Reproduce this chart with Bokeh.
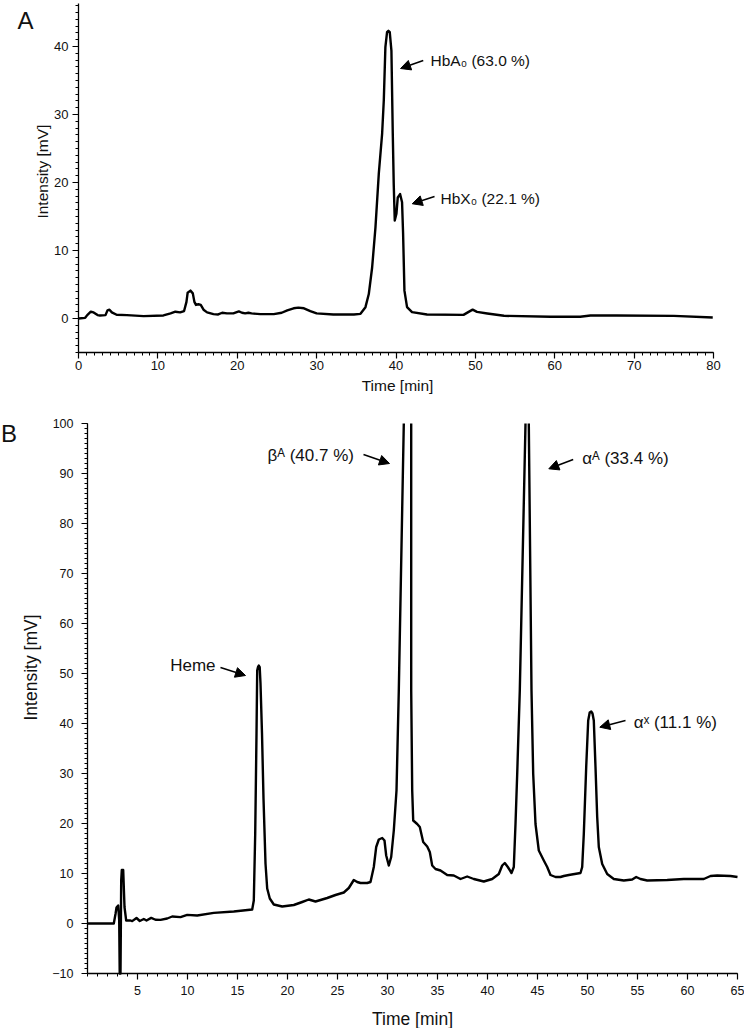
import math
from bokeh.plotting import figure
from bokeh.models import Range1d, FixedTicker, Label, Arrow, NormalHead
from bokeh.layouts import column
from bokeh.embed import file_html
from bokeh.resources import INLINE

FONT = "Liberation Sans"
NAN = float("nan")  # break in the trace where it leaves the 100 mV scale

# ---------------- Panel A data (Time [min], Intensity [mV]) ----------------
time_A = [0, 0.84, 1.1, 1.55, 1.9, 2.4, 2.7, 3.4, 3.65, 3.9, 4.2, 4.8, 6.1, 8.2, 10.7,
          11.6, 12.2, 12.8, 13.3, 13.6, 13.75, 14.1, 14.4, 14.6, 14.8, 15.1, 15.4, 15.75,
          16.2, 17.0, 17.6, 18.1, 18.7, 19.5, 20.2, 20.6, 21.0, 21.4, 21.8, 22.9, 24.6,
          25.6, 26.3, 27.1, 27.7, 28.4, 29.2, 30.0, 32.1, 34.7, 35.52, 36.15, 36.57, 36.99,
          37.41, 37.83, 38.25, 38.46, 38.66, 38.87, 39.04, 39.21, 39.42, 39.59, 39.71, 39.84,
          40.05, 40.22, 40.51, 40.76, 40.89, 41.06, 41.39, 42.02, 43.9, 48.5, 49.15, 49.65,
          50.2, 51.5, 53.6, 59.45, 63.2, 64.5, 67.8, 75.0, 79.9]
intensity_A = [0, 0.1, 0.5, 1.0, 0.9, 0.5, 0.45, 0.5, 1.2, 1.3, 0.9, 0.55, 0.5, 0.35, 0.45,
               0.75, 1.0, 0.9, 1.1, 2.45, 3.8, 4.1, 3.7, 2.45, 2.0, 2.1, 2.0, 1.3,
               0.9, 0.65, 0.6, 0.85, 0.75, 0.75, 1.05, 0.85, 0.75, 0.85, 0.75, 0.65, 0.65,
               0.85, 1.2, 1.5, 1.6, 1.5, 1.1, 0.75, 0.6, 0.6, 0.69, 1.67, 3.6, 7.5,
               13.4, 21.3, 27.2, 32.1, 39.9, 42.1, 42.3, 42.1, 39.4, 27.2, 19.8, 14.4,
               15.4, 17.8, 18.3, 17.1, 12.5, 4.1, 1.67, 0.93, 0.59, 0.54, 0.98, 1.3,
               0.98, 0.74, 0.4, 0.25, 0.25, 0.44, 0.44, 0.39, 0.15]

# ---------------- Panel B data ----------------
time_B = [0, 2.63, 2.8, 2.9, 3.07, 3.17, 3.22, 3.3, 3.37, 3.43, 3.57, 3.7, 3.87, 4.3, 4.47,
          4.9, 5.23, 5.63, 5.9, 6.37, 6.8, 7.3, 7.97, 8.47, 9.3, 9.97, 10.97, 12.63, 14.63,
          16.47, 16.63, 16.77, 16.9, 16.97, 17.05, 17.13, 17.22, 17.3, 17.45, 17.6, 17.8,
          17.97, 18.23, 18.63, 19.47, 20.63, 21.47, 22.13, 22.8, 23.97, 24.8, 25.63, 26.13,
          26.63, 26.97, 27.3, 27.97, 28.3, 28.63, 28.87, 29.13, 29.47, 29.7, 29.87, 30.13,
          30.37, 30.63, 30.9, 31.13, 31.63, 32.0, 32.37, 32.37, 32.47, 32.57, 32.97,
          33.23, 33.57, 33.97, 34.23, 34.47, 34.8, 35.3, 35.97, 36.63, 37.3, 37.97, 38.63,
          39.63, 40.47, 41.13, 41.47, 41.73, 42.03, 42.4, 42.63, 42.8, 42.97, 43.23, 43.8,
          43.97, 44.13, 44.4, 44.57, 44.8, 45.13, 45.63, 45.97, 46.3, 46.8, 47.3,
          47.63, 48.13, 49.3, 49.47, 49.63, 49.87, 50.07, 50.22, 50.37, 50.5, 50.63, 50.8,
          50.97, 51.13, 51.47, 51.97, 52.63, 53.63, 54.47, 54.87, 55.3, 55.97, 57.97, 59.63,
          61.63, 62.3, 62.97, 64.3, 65.0]
intensity_B = [0, 0, 1.9, 3.2, 3.6, 0.6, -10, -10, 8.6, 10.7, 10.7, 3.3, 0.6, 0.6, 0.47,
               1.1, 0.5, 0.9, 0.6, 1.13, 0.75, 0.73, 1.0, 1.4, 1.27, 1.73, 1.6, 2.13, 2.4,
               2.8, 4.6, 17.9, 37.9, 50.6, 51.3, 51.6, 51.3, 48.0, 38.0, 25.0, 12.0,
               7.0, 5.0, 3.8, 3.4, 3.7, 4.3, 4.8, 4.4, 5.1, 5.7, 6.2, 7.1,
               8.7, 8.3, 8.1, 8.1, 8.3, 11.3, 15.3, 16.8, 17.1, 16.6, 13.6, 11.6,
               13.3, 18.6, 26.6, 46.6, 100, NAN, 100, 46.6, 26.6, 20.6, 19.9,
               19.3, 16.3, 15.4, 14.3, 11.6, 10.9, 10.6, 9.7, 9.6, 8.9, 9.4, 8.9,
               8.4, 8.9, 9.9, 11.6, 12.1, 11.3, 10.1, 11.3, 19.9, 29.9, 46.6, 100,
               NAN, 100, 46.6, 29.9, 19.9, 14.6, 12.6, 11.3, 9.7, 9.3, 9.3,
               9.5, 9.7, 10.1, 11.3, 17.9, 31.3, 40.6, 42.2, 42.4, 42.0, 40.6, 31.3,
               21.3, 15.3, 11.9, 9.9, 8.9, 8.6, 8.8, 9.3, 8.9, 8.6, 8.7, 8.9,
               8.9, 9.5, 9.6, 9.5, 9.3]

# ---------------- ticks ----------------
xticks_A = [0, 10, 20, 30, 40, 50, 60, 70, 80]
xminor_A = list(range(0, 81))
yticks_A = [0, 10, 20, 30, 40]
yminor_A = list(range(-5, 47))
xticks_B = [5, 10, 15, 20, 25, 30, 35, 40, 45, 50, 55, 60, 65]
xminor_B = list(range(0, 66))
yticks_B = [-10, 0, 10, 20, 30, 40, 50, 60, 70, 80, 90, 100]
yminor_B = list(range(-10, 101))

# ---------------- annotations ----------------
peaks_A = ["HbA\u2080 (63.0 %)", "HbX\u2080 (22.1 %)"]
peaks_B = ["Heme", "\u03b2\u1d2c (40.7 %)", "\u03b1\u1d2c (33.4 %)", "\u03b1\u02e3 (11.1 %)"]
x_title = "Time [min]"
y_title = "Intensity [mV]"


def style(p, xt, xm, yt, ym, xbounds, ybounds, xfix, tick_font, xstand, ystand):
    p.xgrid.visible = False
    p.ygrid.visible = False
    p.outline_line_color = None
    p.background_fill_color = "white"
    p.border_fill_color = "white"
    p.xaxis.ticker = FixedTicker(ticks=xt, minor_ticks=xm)
    p.yaxis.ticker = FixedTicker(ticks=yt, minor_ticks=ym)
    p.xaxis.bounds = xbounds
    p.yaxis.bounds = ybounds
    p.yaxis.fixed_location = 0
    p.xaxis.fixed_location = xfix
    for ax in (p.xaxis[0], p.yaxis[0]):
        ax.axis_line_color = "black"
        ax.axis_line_width = 1.3
        ax.major_tick_line_color = "black"
        ax.minor_tick_line_color = "black"
        ax.major_tick_line_width = 1.2
        ax.minor_tick_line_width = 1
        ax.major_tick_in = 0
        ax.major_tick_out = 6
        ax.minor_tick_in = 0
        ax.minor_tick_out = 3
        ax.major_label_text_font = FONT
        ax.major_label_text_font_size = tick_font
        ax.major_label_text_color = "#111111"
    p.xaxis.major_label_standoff = xstand
    p.yaxis.major_label_standoff = ystand


def arrow(p, x0, y0, x1, y1):
    p.add_layout(Arrow(end=NormalHead(size=10, fill_color="black", line_color="black", line_width=1),
                       x_start=x0, y_start=y0, x_end=x1, y_end=y1,
                       line_width=1.5, line_color="black"))


def label(p, x, y, text, size, align="left", angle=0.0):
    p.add_layout(Label(x=x, y=y, text=text, text_font=FONT, text_font_size=size,
                       text_align=align, text_baseline="middle", angle=angle,
                       text_color="#111111"))


# ---------------- Figure A ----------------
pA = figure(width=744, height=395, x_range=Range1d(-9.827, 83.9), y_range=Range1d(-11.32, 46.76),
            output_backend="svg", toolbar_location=None,
            min_border_left=0, min_border_right=0, min_border_top=0, min_border_bottom=0)
style(pA, xticks_A, xminor_A, yticks_A, yminor_A, (0, 80), (-5, 46.3), -5, "13px", 2, 4)
pA.line(time_A, intensity_A, line_width=2.4, line_color="black", line_join="round")
arrow(pA, 43.43, 37.94, 40.57, 36.76)
arrow(pA, 44.85, 17.94, 42.04, 16.87)
label(pA, 44.35, 37.94, peaks_A[0], "15.5px")
label(pA, 45.61, 17.65, peaks_A[1], "15.5px")
label(pA, -7.69, 43.8, "A", "24px")
label(pA, -4.54, 21.6, y_title, "15.5px", align="center", angle=math.pi / 2)
label(pA, 40.19, -9.85, x_title, "15.5px", align="center")

# ---------------- Figure B ----------------
pB = figure(width=744, height=633, x_range=Range1d(-8.7, 65.7), y_range=Range1d(-21.0, 105.6),
            output_backend="svg", toolbar_location=None,
            min_border_left=0, min_border_right=0, min_border_top=0, min_border_bottom=0)
style(pB, xticks_B, xminor_B, yticks_B, yminor_B, (0, 65), (-10, 100), -10, "12.5px", 6, 8)
pB.line(time_B, intensity_B, line_width=2.4, line_color="black", line_join="round")
arrow(pB, 13.3, 51.2, 15.8, 49.6)
arrow(pB, 27.6, 93.8, 30.2, 92.0)
arrow(pB, 48.57, 92.8, 46.13, 90.94)
arrow(pB, 53.8, 40.6, 51.23, 39.26)
label(pB, 12.8, 51.6, peaks_B[0], "17px", align="right")
label(pB, 18.0, 93.6, peaks_B[1], "17px")
label(pB, 49.47, 93.06, peaks_B[2], "17px")
label(pB, 54.63, 40.26, peaks_B[3], "17px")
label(pB, -8.65, 98, "B", "24px")
label(pB, -5.7, 51.2, y_title, "17.5px", align="center", angle=math.pi / 2)
label(pB, 32.5, -19.0, x_title, "17.5px", align="center")

layout = column(pA, pB)
open("out.html", "w").write(file_html(layout, INLINE))
